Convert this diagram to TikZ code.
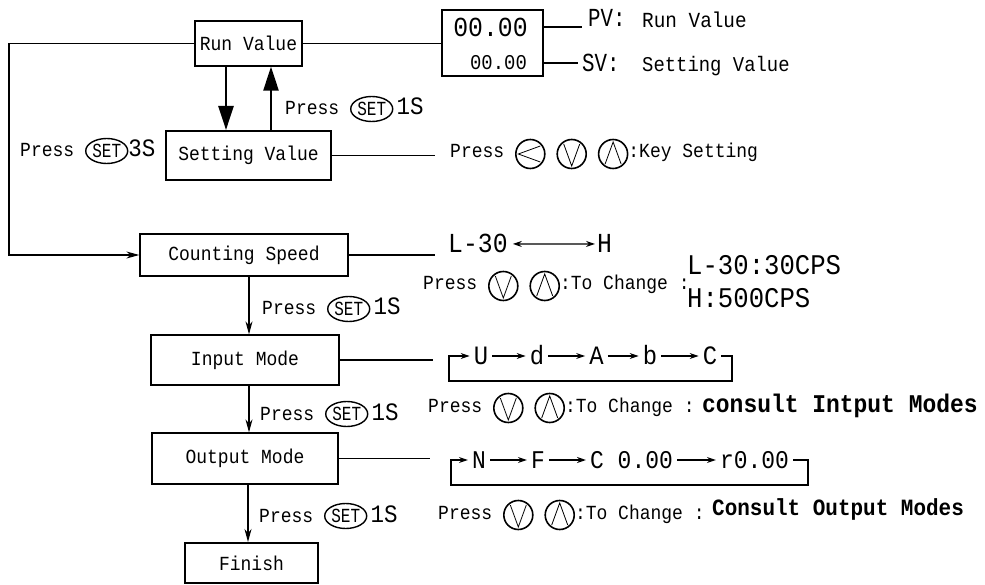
\documentclass[tikz,border=0pt]{standalone}
\usepackage{fontspec}
\setmainfont{Liberation Mono}[FakeStretch=0.9]
\newfontfamily\narrowmono[FakeStretch=0.8]{Liberation Mono}
\usetikzlibrary{arrows.meta}

\newcommand{\fsz}[1]{\fontsize{#1}{#1}\selectfont}
\newcommand{\keycircle}[1]{\tikz[baseline=-4pt]{\draw[line width=1.6pt] (0,0) circle (14.5pt); \draw[line width=0.8pt] #1;}}
\newcommand{\dkey}{\keycircle{(-8pt,10pt)--(0pt,-12pt)--(8pt,10pt)}}
\newcommand{\ukey}{\keycircle{(-8pt,-10pt)--(0pt,12pt)--(8pt,-10pt)}}
\newcommand{\lkey}{\keycircle{(10pt,8pt)--(-12pt,0pt)--(10pt,-8pt)}}
\newcommand{\setkey}{\tikz[baseline=-6pt]{\draw[line width=1.4pt] (0,0) ellipse (21pt and 12.5pt); \node[inner sep=0pt,anchor=center,draw=none,font=\narrowmono\fsz{20}] (setk) at (0,0) {SET};}}

\tikzset{
  box/.style={draw,line width=1.3pt,font=\fsz{20},inner sep=0pt},
  heavybox/.style={box,line width=2pt},
  txt/.style={anchor=base west,inner sep=0pt,font=\fsz{20}},
  chainchar/.style={inner sep=0pt,inner xsep=4pt,text height=16pt,text depth=0pt,anchor=base,font=\fsz{26.5}},
  link/.style={line width=1.2pt},
  flow/.style={link,-{Stealth[length=13pt,width=7pt]}},
  bigflow/.style={line width=2.5pt,-{Triangle[length=24pt,width=15pt]}},
  tiny/.style={link,-{Stealth[length=9pt,width=6pt]}}
}

\begin{document}
\begin{tikzpicture}[x=1pt,y=-1pt]
\useasboundingbox (0,0) rectangle (985,585);

\node[box,minimum width=107pt,minimum height=45pt] (runval) at (248.5,43.5) {Run Value};
\node[heavybox,minimum width=165pt,minimum height=49pt] (setval) at (248.5,155.5) {Setting Value};
\node[box,minimum width=208pt,minimum height=42pt] (speed) at (244,255) {Counting Speed};
\node[box,minimum width=188pt,minimum height=50pt] (inmode) at (245,360) {Input Mode};
\node[box,minimum width=186pt,minimum height=51pt] (outmode) at (245,458.5) {Output Mode};
\node[heavybox,minimum width=133pt,minimum height=40pt] (finish) at (251.5,563) {Finish};
\node[heavybox,minimum width=101pt,minimum height=66pt] (display) at (492.5,43) {};

\node[inner sep=0pt,font=\fsz{27.5}] (pvnum) at (490.5,27) {00.00};
\node[inner sep=0pt,font=\fsz{21}] (svnum) at (498.5,63) {00.00};
\coordinate (pvend) at (582,27);
\coordinate (svend) at (578,63);
\draw[link] (display.east |- pvend) -- (pvend);
\draw[link] (display.east |- svend) -- (svend);
\node[txt,font=\narrowmono\fsz{26}] (pv) at (588,27) {PV:};
\node[txt,font=\fsz{21.5}] (pvtext) at (642,28) {Run Value};
\node[txt,font=\narrowmono\fsz{26}] (sv) at (582,72) {SV:};
\node[txt,font=\fsz{21}] (svtext) at (642,72) {Setting Value};

\draw[link] (runval.east) -- (runval.east -| display.west);
\draw[bigflow] ([xshift=-22.5pt]runval.south) -- ([xshift=-22.5pt]runval.south |- setval.north);
\draw[bigflow] ([xshift=22.5pt]setval.north) -- ([xshift=22.5pt]setval.north |- runval.south);
\node[txt] (pressback) at (285,115) {Press \setkey\,{\fsz{25}1S}};

\coordinate (bus) at (9,0);
\draw[flow] (runval.west) -- (runval.west -| bus) -- (speed.west -| bus) -- (speed.west);
\node[txt] (presslong) at (20,157) {Press \setkey{\fsz{25}3S}};

\coordinate (keyend) at (435,0);
\draw[link] (setval.east) -- (setval.east -| keyend);
\node[txt] (presskey) at (450,158) {Press \lkey{} \dkey{} \ukey:Key Setting};

\coordinate (speedend) at (435,0);
\draw[link] (speed.east) -- (speed.east -| speedend);
\node[inner sep=0pt,anchor=base west,font=\fsz{27.5}] (lthirty) at (448,253) {L-30};
\node[inner sep=0pt,anchor=base west,font=\fsz{27.5}] (hh) at (597,253) {H};
\draw[link,{Stealth[length=9pt,width=6pt]}-{Stealth[length=9pt,width=6pt]}] ([xshift=5pt]lthirty.east) -- ([xshift=-2pt]hh.west);
\node[txt] (pressspeed) at (423,290) {Press \dkey{} \ukey:To Change :};
\node[txt,font=\fsz{28.5}] (cpslow) at (687,275) {L-30:30CPS};
\node[txt,font=\fsz{28.5}] (cpshigh) at (687,308) {H:500CPS};

\draw[flow] ([xshift=5pt]speed.south) -- ([xshift=5pt]speed.south |- inmode.north);
\node[txt] (pressin) at (262,315) {Press \setkey\,{\fsz{25}1S}};

\coordinate (inend) at (433,0);
\draw[link] (inmode.east) -- (inmode.east -| inend);
\node[chainchar] (iu) at (481,364) {U};
\node[chainchar] (idd) at (537,364) {d};
\node[chainchar] (ia) at (596.5,364) {A};
\node[chainchar] (ib) at (650,364) {b};
\node[chainchar] (ic) at (710,364) {C};
\draw[tiny] (iu) -- (idd);
\draw[tiny] (idd) -- (ia);
\draw[tiny] (ia) -- (ib);
\draw[tiny] (ib) -- (ic);
\coordinate (inright) at (732,381);
\coordinate (inleft) at (449,381);
\draw[tiny] (ic.east) -| (inright) -- (inleft) |- (iu.west);
\node[txt] (pressinmode) at (428,412) {Press \dkey{} \ukey:To Change :};
\node[txt,font=\bfseries\fsz{25.5}] (inconsult) at (702,412) {consult Intput Modes};

\draw[flow] ([xshift=4pt]inmode.south) -- ([xshift=4pt]inmode.south |- outmode.north);
\node[txt] (pressout) at (260,420) {Press \setkey\,{\fsz{25}1S}};

\coordinate (outend) at (430,0);
\draw[link] (outmode.east) -- (outmode.east -| outend);
\node[chainchar,font=\fsz{25.5}] (on) at (479,468) {N};
\node[chainchar,font=\fsz{25.5}] (of) at (538,468) {F};
\node[chainchar,font=\fsz{25.5}] (oc) at (631.5,468) {C 0.00};
\node[chainchar,font=\fsz{25.5}] (orr) at (754.5,468) {r0.00};
\draw[tiny] (on) -- (of);
\draw[tiny] (of) -- (oc);
\draw[tiny] (oc) -- (orr);
\coordinate (outright) at (808,485);
\coordinate (outleft) at (451,485);
\draw[tiny] (orr.east) -| (outright) -- (outleft) |- (on.west);
\node[txt] (pressoutmode) at (438,519) {Press \dkey{} \ukey:To Change :};
\node[txt,font=\bfseries\fsz{23.3}] (outconsult) at (712,515) {Consult Output Modes};

\draw[flow] ([xshift=3pt]outmode.south) -- ([xshift=3pt]outmode.south |- finish.north);
\node[txt] (pressfin) at (259,522) {Press \setkey\,{\fsz{25}1S}};
\end{tikzpicture}
\end{document}
